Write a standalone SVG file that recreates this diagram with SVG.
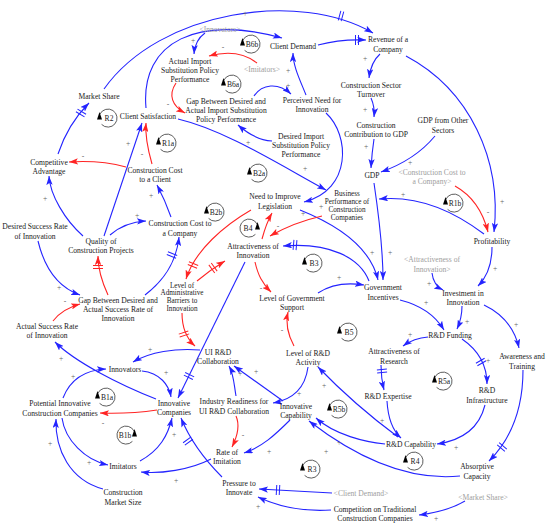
<svg xmlns="http://www.w3.org/2000/svg" xmlns:xlink="http://www.w3.org/1999/xlink" width="550" height="527" viewBox="0 0 550 527">
<style>
.t{font-family:"Liberation Serif","Times New Roman",serif;font-size:7.6px;fill:#1a1a1a;text-anchor:middle}
.s{font-size:7.2px}
.g{fill:#9e9e9e}
.p{font-family:"Liberation Serif","Times New Roman",serif;font-size:7.5px;fill:#666;text-anchor:middle}
.c{fill:none;stroke-width:1.1}
.b{stroke:#2424ff}
.r{stroke:#ff2424}
.b.c{marker-end:url(#ab)}
.r.c{marker-end:url(#ar)}
.dl{fill:none;stroke-width:1}
.lp{fill:none;stroke:#333;stroke-width:0.8}
</style>
<defs>
<marker id="ab" viewBox="0 0 10 7" refX="10" refY="3.5" markerWidth="9" markerHeight="6.3" markerUnits="userSpaceOnUse" orient="auto"><path d="M0,0 L10,3.5 L0,7 L2.2,3.5 z" fill="#2424ff"/></marker>
<marker id="ar" viewBox="0 0 10 7" refX="10" refY="3.5" markerWidth="9" markerHeight="6.3" markerUnits="userSpaceOnUse" orient="auto"><path d="M0,0 L10,3.5 L0,7 L2.2,3.5 z" fill="#ff2424"/></marker>
<g id="loopL"><path class="lp" d="M-8,-4 A9,9 0 1 1 -6.4,6.4"/><path d="M-8.5,-6 L-11,1.5 L-6,1.5 z" fill="#000"/></g>
<g id="loopR"><path class="lp" d="M8,-4 A9,9 0 1 0 6.4,6.4"/><path d="M8.5,-6 L11,1.5 L6,1.5 z" fill="#000"/></g>
<path id="dm" d="M-1.5,-5V5M1.5,-5V5"/>
</defs>
<rect width="550" height="527" fill="#fff"/>

<g id="connectors">
<path class="c b" d="M58,154 Q68,124 89,103"/>
<path class="c b" d="M104,89 C160,10 300,-10 373,33"/>
<path class="c b" d="M146,108 C140,40 200,15 282,38"/>
<path class="c b" d="M318,45 Q340,39 366,40"/>
<path class="c b" d="M380,54 Q371,62 369,78"/>
<path class="c b" d="M371,98 Q375,107 374,117"/>
<path class="c b" d="M374,139 Q372,152 371,168"/>
<path class="c b" d="M435,136 Q415,160 381,172"/>
<path class="c b" d="M406,56 C470,90 502,160 494,232"/>
<path class="c r" d="M455,186 Q480,200 488,232"/>
<path class="c b" d="M484,234 C455,212 420,195 379,199"/>
<path class="c b" d="M374,183 C378,210 383,250 383,280"/>
<path class="c b" d="M300,210 C335,224 370,245 378,280"/>
<path class="c b" d="M326,113 C350,135 352,190 304,202"/>
<path class="c b" d="M178,119 C225,130 280,165 326,190"/>
<path class="c b" d="M272,141 Q255,140 238,125"/>
<path class="c r" d="M176,83 C168,95 172,106 185,113"/>
<path class="c b" d="M205,33 Q195,40 194,54"/>
<path class="c r" d="M257,63 Q238,48 209,56"/>
<path class="c b" d="M254,96 C262,84 278,82 291,94"/>
<path class="c b" d="M306,95 C300,80 293,66 293,53"/>
<path class="c r" d="M152,164 C148,150 145,135 146,123"/>
<path class="c b" d="M104,236 L142,123"/>
<path class="c r" d="M126,167 Q100,160 69,162"/>
<path class="c b" d="M171,217 Q165,200 157,185"/>
<path class="c b" d="M110,235 Q125,222 146,221"/>
<path class="c b" d="M83,236 C65,220 50,195 49,176"/>
<path class="c r" d="M108,295 C102,282 98,270 98,256"/>
<path class="c b" d="M145,295 C162,282 176,265 179,237"/>
<path class="c b" d="M38,241 C45,270 60,288 80,295"/>
<path class="c r" d="M53,321 Q62,309 80,304"/>
<path class="c b" d="M156,399 C120,385 75,362 55,342"/>
<path class="c b" d="M142,371 C160,373 169,385 171,397"/>
<path class="c b" d="M200,350 C175,348 150,352 133,362"/>
<path class="c b" d="M245,262 L178,398"/>
<path class="c r" d="M157,410 Q130,414 100,413"/>
<path class="c b" d="M63,398 C70,380 85,370 106,369"/>
<path class="c b" d="M62,418 C65,440 85,460 108,465"/>
<path class="c b" d="M140,461 C160,450 168,435 172,418"/>
<path class="c b" d="M211,459 C190,470 160,474 141,472"/>
<path class="c b" d="M103,489 C70,480 55,450 56,419"/>
<path class="c b" d="M222,477 C205,460 190,440 181,418"/>
<path class="c b" d="M332,493 L259,489"/>
<path class="c b" d="M331,510 C300,512 275,505 258,497"/>
<path class="c b" d="M465,501 C450,510 435,513 419,515"/>
<path class="c b" d="M290,420 C275,435 262,447 244,453"/>
<path class="c r" d="M236,416 C240,425 237,437 232,447"/>
<path class="c b" d="M236,396 C234,385 234,375 229,366"/>
<path class="c b" d="M283,401 L234,366"/>
<path class="c b" d="M308,367 C305,390 290,400 273,403"/>
<path class="c r" d="M294,346 C288,335 285,325 288,312"/>
<path class="c r" d="M255,262 C258,275 262,283 271,292"/>
<path class="c b" d="M318,293 C330,285 345,282 364,285"/>
<path class="c b" d="M369,281 C360,258 330,242 283,246"/>
<path class="c r" d="M322,216 C300,221 284,228 270,236"/>
<path class="c r" d="M262,239 C265,228 268,220 272,213"/>
<path class="c r" d="M251,210 C225,225 195,250 186,279"/>
<path class="c r" d="M197,281 Q210,270 225,261"/>
<path class="c r" d="M182,313 C182,328 186,338 195,346"/>
<path class="c b" d="M400,300 C420,305 435,315 444,330"/>
<path class="c b" d="M462,306 Q462,318 457,329"/>
<path class="c b" d="M492,247 C492,265 487,277 478,286"/>
<path class="c b" d="M432,273 C433,282 437,287 443,290"/>
<path class="c b" d="M484,305 C505,315 515,330 519,348"/>
<path class="c b" d="M428,337 Q414,338 403,346"/>
<path class="c b" d="M462,339 C478,350 487,365 487,384"/>
<path class="c b" d="M381,365 Q381,378 384,390"/>
<path class="c b" d="M387,401 C388,418 392,430 401,438"/>
<path class="c b" d="M485,405 C480,425 465,440 437,444"/>
<path class="c b" d="M523,370 C523,410 510,440 489,461"/>
<path class="c b" d="M385,444 C365,442 335,435 316,418"/>
<path class="c b" d="M398,437 C375,420 345,395 318,367"/>
<path class="c b" d="M460,476 C420,480 370,468 309,421"/>

<g class="dl b">
<use xlink:href="#dm" transform="translate(81,113) rotate(-59)"/>
<use xlink:href="#dm" transform="translate(341,16) rotate(15)"/>
<use xlink:href="#dm" transform="translate(357,40) rotate(0)"/>
<use xlink:href="#dm" transform="translate(172,255) rotate(-68)"/>
<use xlink:href="#dm" transform="translate(189,376) rotate(116)"/>
<use xlink:href="#dm" transform="translate(188,441) rotate(-126)"/>
<use xlink:href="#dm" transform="translate(278,490) rotate(3)"/>
<use xlink:href="#dm" transform="translate(295,245) rotate(5)"/>
<use xlink:href="#dm" transform="translate(481,362) rotate(60)"/>
<use xlink:href="#dm" transform="translate(382,371) rotate(85)"/>
<use xlink:href="#dm" transform="translate(502,447) rotate(130)"/>
</g>
<g class="dl r">
<use xlink:href="#dm" transform="translate(98,267) rotate(90)"/>
<use xlink:href="#dm" transform="translate(193,265) rotate(112)"/>
<use xlink:href="#dm" transform="translate(213,268) rotate(-36)"/>
<use xlink:href="#dm" transform="translate(184,334) rotate(72)"/>
</g>

<g class="p">
<text x="245" y="16">+</text><text x="193" y="43">+</text><text x="288" y="73">+</text><text x="288" y="88">+</text>
<text x="365" y="61">+</text><text x="365" y="112">+</text><text x="366" y="149">+</text><text x="410" y="165">+</text>
<text x="502" y="204">+</text><text x="403" y="197">+</text><text x="248" y="145">+</text><text x="305" y="171">+</text>
<text x="128" y="146">+</text><text x="151" y="198">+</text><text x="137" y="218">+</text><text x="45" y="201">+</text>
<text x="59" y="290">+</text><text x="303" y="216">+</text><text x="321" y="209">+</text><text x="372" y="255">+</text>
<text x="390" y="255">+</text><text x="339" y="280">+</text><text x="426" y="305">+</text><text x="467" y="324">+</text>
<text x="495" y="271">+</text><text x="429" y="286">+</text><text x="516" y="327">+</text><text x="410" y="337">+</text>
<text x="488" y="363">+</text><text x="382" y="423">+</text><text x="456" y="450">+</text><text x="61" y="361">+</text>
<text x="166" y="375">+</text><text x="150" y="352">+</text><text x="73" y="379">+</text><text x="89" y="465">+</text>
<text x="174" y="437">+</text><text x="176" y="483">+</text><text x="50" y="446">+</text><text x="258" y="509">+</text>
<text x="436" y="521">+</text><text x="269" y="454">+</text><text x="240" y="376">+</text><text x="256" y="374">+</text>
<text x="324" y="388">+</text><text x="299" y="396">+</text><text x="339" y="445">+</text><text x="326" y="454">+</text>
<text x="168" y="107">-</text><text x="223" y="50">-</text><text x="142" y="157">-</text><text x="83" y="159">-</text>
<text x="65" y="304">-</text><text x="278" y="229">-</text><text x="261" y="291">-</text><text x="282" y="333">-</text>
<text x="488" y="215">-</text><text x="103" y="426">-</text><text x="243" y="438">-</text>
</g>
</g>

<g id="loops">
<g id="loop-R2"><use xlink:href="#loopL" x="108" y="118"/><text class="t" x="109" y="120.6">R2</text></g>
<g id="loop-R1a"><use xlink:href="#loopL" x="167" y="143"/><text class="t" x="168" y="145.6">R1a</text></g>
<g id="loop-B6b"><use xlink:href="#loopL" x="251" y="44"/><text class="t" x="252" y="46.6">B6b</text></g>
<g id="loop-B6a"><use xlink:href="#loopL" x="232" y="84"/><text class="t" x="233" y="86.6">B6a</text></g>
<g id="loop-B2a"><use xlink:href="#loopL" x="258" y="173"/><text class="t" x="259" y="175.6">B2a</text></g>
<g id="loop-B2b"><use xlink:href="#loopL" x="215" y="212"/><text class="t" x="216" y="214.6">B2b</text></g>
<g id="loop-R1b"><use xlink:href="#loopL" x="454" y="203"/><text class="t" x="455" y="205.6">R1b</text></g>
<g id="loop-B4"><use xlink:href="#loopR" x="249" y="228"/><text class="t" x="248" y="230.6">B4</text></g>
<g id="loop-B3"><use xlink:href="#loopL" x="313" y="263"/><text class="t" x="314" y="265.6">B3</text></g>
<g id="loop-B5"><use xlink:href="#loopL" x="348" y="332"/><text class="t" x="349" y="334.6">B5</text></g>
<g id="loop-R5a"><use xlink:href="#loopL" x="443" y="381"/><text class="t" x="444" y="383.6">R5a</text></g>
<g id="loop-R5b"><use xlink:href="#loopL" x="338" y="409"/><text class="t" x="339" y="411.6">R5b</text></g>
<g id="loop-R4"><use xlink:href="#loopL" x="414" y="461"/><text class="t" x="415" y="463.6">R4</text></g>
<g id="loop-R3"><use xlink:href="#loopL" x="311" y="469"/><text class="t" x="312" y="471.6">R3</text></g>
<g id="loop-B1a"><use xlink:href="#loopL" x="106" y="397"/><text class="t" x="107" y="399.6">B1a</text></g>
<g id="loop-B1b"><use xlink:href="#loopR" x="126" y="435"/><text class="t" x="125" y="437.6">B1b</text></g>
</g>

<g id="n-innovators-shadow"><text class="t g" x="220" y="31.6">&lt;Innovators&gt;</text></g>
<g id="n-imitators-shadow"><text class="t g" x="262" y="71.6">&lt;Imitators&gt;</text></g>
<g id="n-client-demand"><text class="t" x="293" y="48.6">Client Demand</text></g>
<g id="n-revenue"><text class="t"><tspan x="388" y="41.6">Revenue of a</tspan><tspan x="388" y="51.6">Company</tspan></text></g>
<g id="n-actual-import"><text class="t"><tspan x="190" y="63.6">Actual Import</tspan><tspan x="190" y="72.6">Substitution Policy</tspan><tspan x="190" y="81.6">Performance</tspan></text></g>
<g id="n-gap-import"><text class="t"><tspan x="226" y="103.6">Gap Between Desired and</tspan><tspan x="226" y="112.6">Actual Import Substitution</tspan><tspan x="226" y="121.6">Policy Performance</tspan></text></g>
<g id="n-perceived-need"><text class="t"><tspan x="312" y="102.6">Perceived Need for</tspan><tspan x="312" y="111.6">Innovation</tspan></text></g>
<g id="n-desired-import"><text class="t"><tspan x="301" y="138.6">Desired Import</tspan><tspan x="301" y="147.6">Substitution Policy</tspan><tspan x="301" y="156.6">Performance</tspan></text></g>
<g id="n-turnover"><text class="t"><tspan x="371" y="87.6">Construction Sector</tspan><tspan x="371" y="96.6">Turnover</tspan></text></g>
<g id="n-contribution"><text class="t"><tspan x="376" y="127.6">Construction</tspan><tspan x="376" y="136.6">Contribution to GDP</tspan></text></g>
<g id="n-gdp-other"><text class="t"><tspan x="443" y="122.6">GDP from Other</tspan><tspan x="443" y="132.6">Sectors</tspan></text></g>
<g id="n-gdp"><text class="t" x="372" y="177.6">GDP</text></g>
<g id="n-cost-company-shadow"><text class="t g"><tspan x="432" y="174.6">&lt;Construction Cost to</tspan><tspan x="432" y="183.6">a Company&gt;</tspan></text></g>
<g id="n-profitability"><text class="t" x="492" y="243.6">Profitability</text></g>
<g id="n-business-performance"><text class="t s"><tspan x="347" y="196">Business</tspan><tspan x="347" y="204">Performance of</tspan><tspan x="347" y="212">Construction</tspan><tspan x="347" y="220">Companies</tspan></text></g>
<g id="n-legislation"><text class="t"><tspan x="275" y="198.6">Need to Improve</tspan><tspan x="275" y="208.6">Legislation</tspan></text></g>
<g id="n-cost-company"><text class="t"><tspan x="180" y="225.6">Construction Cost to</tspan><tspan x="180" y="235.6">a Company</tspan></text></g>
<g id="n-cost-client"><text class="t"><tspan x="155" y="172.6">Construction Cost</tspan><tspan x="155" y="181.6">to a Client</tspan></text></g>
<g id="n-client-satisfaction"><text class="t" x="148" y="118.6">Client Satisfaction</text></g>
<g id="n-market-share"><text class="t" x="99" y="98.6">Market Share</text></g>
<g id="n-competitive"><text class="t"><tspan x="49" y="164.6">Competitive</tspan><tspan x="49" y="173.6">Advantage</tspan></text></g>
<g id="n-attractiveness"><text class="t"><tspan x="253" y="248.6">Attractiveness of</tspan><tspan x="253" y="257.6">Innovation</tspan></text></g>
<g id="n-gov-support"><text class="t"><tspan x="292" y="300.6">Level of Government</tspan><tspan x="292" y="309.6">Support</tspan></text></g>
<g id="n-gov-incentives"><text class="t"><tspan x="383" y="289.6">Government</tspan><tspan x="383" y="299.6">Incentives</tspan></text></g>
<g id="n-attract-shadow"><text class="t g"><tspan x="432" y="261.6">&lt;Attractiveness of</tspan><tspan x="432" y="271.6">Innovation&gt;</tspan></text></g>
<g id="n-investment"><text class="t"><tspan x="463" y="295.6">Investment in</tspan><tspan x="463" y="304.6">Innovation</tspan></text></g>
<g id="n-rd-funding"><text class="t" x="450" y="337.6">R&amp;D Funding</text></g>
<g id="n-attract-research"><text class="t"><tspan x="394" y="353.6">Attractiveness of</tspan><tspan x="394" y="363.6">Research</tspan></text></g>
<g id="n-rd-expertise"><text class="t" x="388" y="398.6">R&amp;D Expertise</text></g>
<g id="n-rd-infrastructure"><text class="t"><tspan x="487" y="392.6">R&amp;D</tspan><tspan x="487" y="402.6">Infrastructure</tspan></text></g>
<g id="n-awareness"><text class="t"><tspan x="522" y="358.6">Awareness and</tspan><tspan x="522" y="368.6">Training</tspan></text></g>
<g id="n-rd-capability"><text class="t" x="411" y="446.6">R&amp;D Capability</text></g>
<g id="n-absorptive"><text class="t"><tspan x="477" y="468.6">Absorptive</tspan><tspan x="477" y="478.6">Capacity</tspan></text></g>
<g id="n-market-share-shadow"><text class="t g" x="483" y="499.6">&lt;Market Share&gt;</text></g>
<g id="n-competition"><text class="t"><tspan x="375" y="511.6">Competition on Traditional</tspan><tspan x="375" y="520.6">Construction Companies</tspan></text></g>
<g id="n-client-demand-shadow"><text class="t g" x="361" y="495.6">&lt;Client Demand&gt;</text></g>
<g id="n-pressure"><text class="t"><tspan x="239" y="485.6">Pressure to</tspan><tspan x="239" y="494.6">Innovate</tspan></text></g>
<g id="n-rate-imitation"><text class="t"><tspan x="227" y="454.6">Rate of</tspan><tspan x="227" y="463.6">Imitation</tspan></text></g>
<g id="n-innovative-capability"><text class="t"><tspan x="296" y="408.6">Innovative</tspan><tspan x="296" y="417.6">Capability</tspan></text></g>
<g id="n-industry-readiness"><text class="t"><tspan x="234" y="403.6">Industry Readiness for</tspan><tspan x="234" y="413.6">UI R&amp;D Collaboration</tspan></text></g>
<g id="n-level-rd"><text class="t"><tspan x="308" y="355.6">Level of R&amp;D</tspan><tspan x="308" y="364.6">Activity</tspan></text></g>
<g id="n-ui-rd"><text class="t"><tspan x="218" y="354.6">UI R&amp;D</tspan><tspan x="218" y="363.6">Collaboration</tspan></text></g>
<g id="n-admin-barriers"><text class="t s"><tspan x="182" y="287.6">Level of</tspan><tspan x="182" y="295.4">Administrative</tspan><tspan x="182" y="303.2">Barriers to</tspan><tspan x="182" y="311">Innovation</tspan></text></g>
<g id="n-innovative-companies"><text class="t"><tspan x="174" y="405.6">Innovative</tspan><tspan x="174" y="414.6">Companies</tspan></text></g>
<g id="n-innovators"><text class="t" x="125" y="371.6">Innovators</text></g>
<g id="n-potential"><text class="t"><tspan x="60" y="405.6">Potential Innovative</tspan><tspan x="60" y="415.6">Construction Companies</tspan></text></g>
<g id="n-imitators"><text class="t" x="123" y="468.6">Imitators</text></g>
<g id="n-market-size"><text class="t"><tspan x="123" y="494.6">Construction</tspan><tspan x="123" y="504.6">Market Size</tspan></text></g>
<g id="n-desired-success"><text class="t"><tspan x="35" y="228.6">Desired Success Rate</tspan><tspan x="35" y="238.6">of Innovation</tspan></text></g>
<g id="n-quality"><text class="t"><tspan x="101" y="243.6">Quality of</tspan><tspan x="101" y="252.6">Construction Projects</tspan></text></g>
<g id="n-gap-success"><text class="t"><tspan x="118" y="302.6">Gap Between Desired and</tspan><tspan x="118" y="311.6">Actual Success Rate of</tspan><tspan x="118" y="320.6">Innovation</tspan></text></g>
<g id="n-actual-success"><text class="t"><tspan x="47" y="328.6">Actual Success Rate</tspan><tspan x="47" y="337.6">of Innovation</tspan></text></g>
</svg>
